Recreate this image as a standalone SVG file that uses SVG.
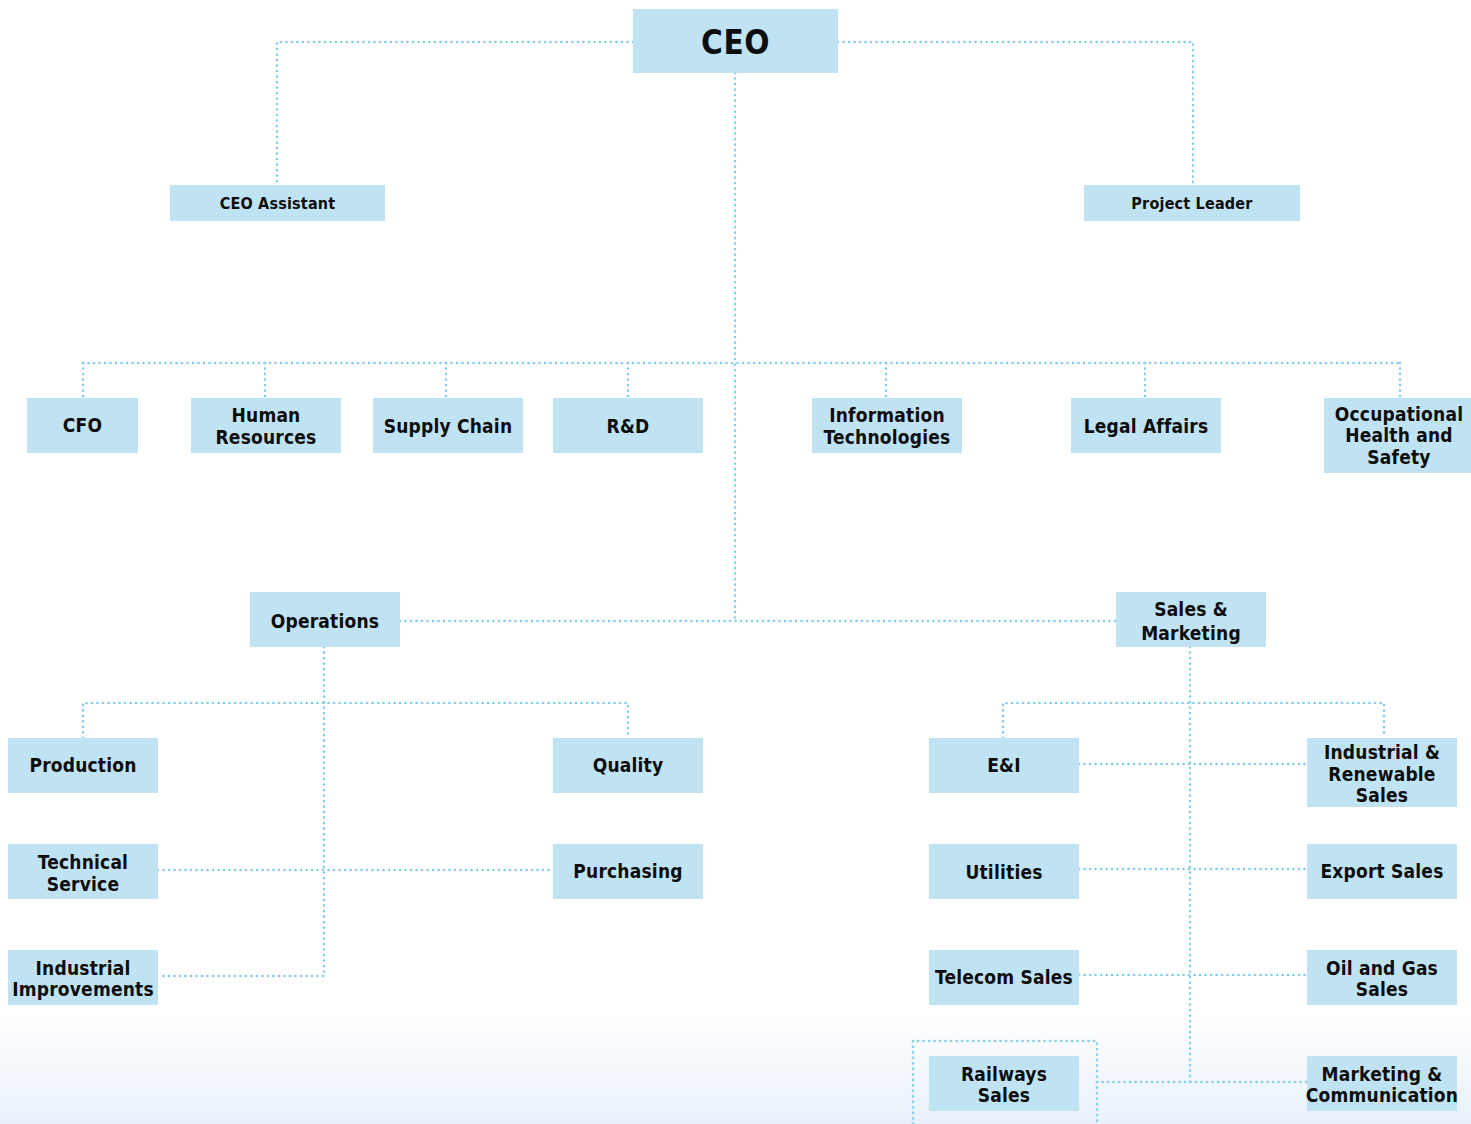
<svg xmlns="http://www.w3.org/2000/svg" width="1471" height="1124" viewBox="0 0 1471 1124">
<defs>
<linearGradient id="bg" x1="0" y1="0" x2="0" y2="1">
<stop offset="0" stop-color="#ffffff"/>
<stop offset="0.9" stop-color="#ffffff"/>
<stop offset="1" stop-color="#e8f1fb"/>
</linearGradient>
<style>
.box{fill:#c0e3f3;}
.t{font-family:"DejaVu Sans Condensed","Liberation Sans",sans-serif;font-weight:bold;font-size:19px;fill:#0d0d0d;text-anchor:middle;dominant-baseline:central;letter-spacing:0.2px;}
.s{font-size:16px;}
.big{font-size:33px;letter-spacing:0.5px;}
.c{fill:none;stroke:#86cde9;stroke-width:2.6;stroke-dasharray:0.1 5.4;stroke-linecap:round;}
</style>
</defs>
<rect x="0" y="0" width="1471" height="1124" fill="url(#bg)"/>
<g id="connectors">
<path class="c" d="M633,42 H277 V185"/>
<path class="c" d="M838,42 H1193 V185"/>
<path class="c" d="M735,73 V621"/>
<path class="c" d="M83,363 H1400"/>
<path class="c" d="M83,363 V398 M265,363 V398 M446,363 V398 M628,363 V398 M886,363 V398 M1145,363 V398 M1400,363 V398"/>
<path class="c" d="M400,621 H1116"/>
<path class="c" d="M324,647 V976 H158"/>
<path class="c" d="M83,738 V703 H628 V738"/>
<path class="c" d="M158,870 H553"/>
<path class="c" d="M1190,647 V1082"/>
<path class="c" d="M1003,738 V703 H1384 V738"/>
<path class="c" d="M1079,764 H1307 M1079,869 H1307 M1079,975 H1307 M1097,1082 H1307"/>
<path class="c" d="M913,1124 V1041 H1097 V1124"/>
</g>
<g id="ceo"><rect class="box" x="633" y="9" width="205" height="64"/><text class="t big" x="735.5" y="42">CEO</text></g>
<g id="ceo-assistant"><rect class="box" x="170" y="185" width="215" height="36"/><text class="t s" x="277.5" y="203">CEO Assistant</text></g>
<g id="project-leader"><rect class="box" x="1084" y="185" width="216" height="36"/><text class="t s" x="1192" y="203">Project Leader</text></g>
<g id="cfo"><rect class="box" x="27" y="398" width="111" height="55"/><text class="t" x="82.5" y="425">CFO</text></g>
<g id="hr"><rect class="box" x="191" y="398" width="150" height="55"/><text class="t" x="266" y="415">Human</text><text class="t" x="266" y="437">Resources</text></g>
<g id="supply-chain"><rect class="box" x="373" y="398" width="150" height="55"/><text class="t" x="448" y="426">Supply Chain</text></g>
<g id="rd"><rect class="box" x="553" y="398" width="150" height="55"/><text class="t" x="628" y="426">R&amp;D</text></g>
<g id="it"><rect class="box" x="812" y="398" width="150" height="55"/><text class="t" x="887" y="415">Information</text><text class="t" x="887" y="437">Technologies</text></g>
<g id="legal"><rect class="box" x="1071" y="398" width="150" height="55"/><text class="t" x="1146" y="426">Legal Affairs</text></g>
<g id="ohs"><rect class="box" x="1324" y="398" width="147" height="75"/><text class="t" x="1399" y="414">Occupational</text><text class="t" x="1399" y="435">Health and</text><text class="t" x="1399" y="457">Safety</text></g>
<g id="operations"><rect class="box" x="250" y="592" width="150" height="55"/><text class="t" x="325" y="621">Operations</text></g>
<g id="sales-marketing"><rect class="box" x="1116" y="592" width="150" height="55"/><text class="t" x="1191" y="609">Sales &amp;</text><text class="t" x="1191" y="633">Marketing</text></g>
<g id="production"><rect class="box" x="8" y="738" width="150" height="55"/><text class="t" x="83" y="765">Production</text></g>
<g id="quality"><rect class="box" x="553" y="738" width="150" height="55"/><text class="t" x="628" y="765">Quality</text></g>
<g id="technical-service"><rect class="box" x="8" y="844" width="150" height="55"/><text class="t" x="83" y="862">Technical</text><text class="t" x="83" y="884">Service</text></g>
<g id="purchasing"><rect class="box" x="553" y="844" width="150" height="55"/><text class="t" x="628" y="871">Purchasing</text></g>
<g id="industrial-improvements"><rect class="box" x="8" y="950" width="150" height="55"/><text class="t" x="83" y="968">Industrial</text><text class="t" x="83" y="989">Improvements</text></g>
<g id="ei"><rect class="box" x="929" y="738" width="150" height="55"/><text class="t" x="1004" y="765">E&amp;I</text></g>
<g id="industrial-renewable"><rect class="box" x="1307" y="738" width="150" height="69"/><text class="t" x="1382" y="752">Industrial &amp;</text><text class="t" x="1382" y="774">Renewable</text><text class="t" x="1382" y="795">Sales</text></g>
<g id="utilities"><rect class="box" x="929" y="844" width="150" height="55"/><text class="t" x="1004" y="872">Utilities</text></g>
<g id="export-sales"><rect class="box" x="1307" y="844" width="150" height="55"/><text class="t" x="1382" y="871">Export Sales</text></g>
<g id="telecom-sales"><rect class="box" x="929" y="950" width="150" height="55"/><text class="t" x="1004" y="977">Telecom Sales</text></g>
<g id="oil-gas-sales"><rect class="box" x="1307" y="950" width="150" height="55"/><text class="t" x="1382" y="968">Oil and Gas</text><text class="t" x="1382" y="989">Sales</text></g>
<g id="railways-sales"><rect class="box" x="929" y="1056" width="150" height="55"/><text class="t" x="1004" y="1074">Railways</text><text class="t" x="1004" y="1095">Sales</text></g>
<g id="marketing-communication"><rect class="box" x="1307" y="1056" width="150" height="55"/><text class="t" x="1382" y="1074">Marketing &amp;</text><text class="t" x="1382" y="1095">Communication</text></g>
</svg>
